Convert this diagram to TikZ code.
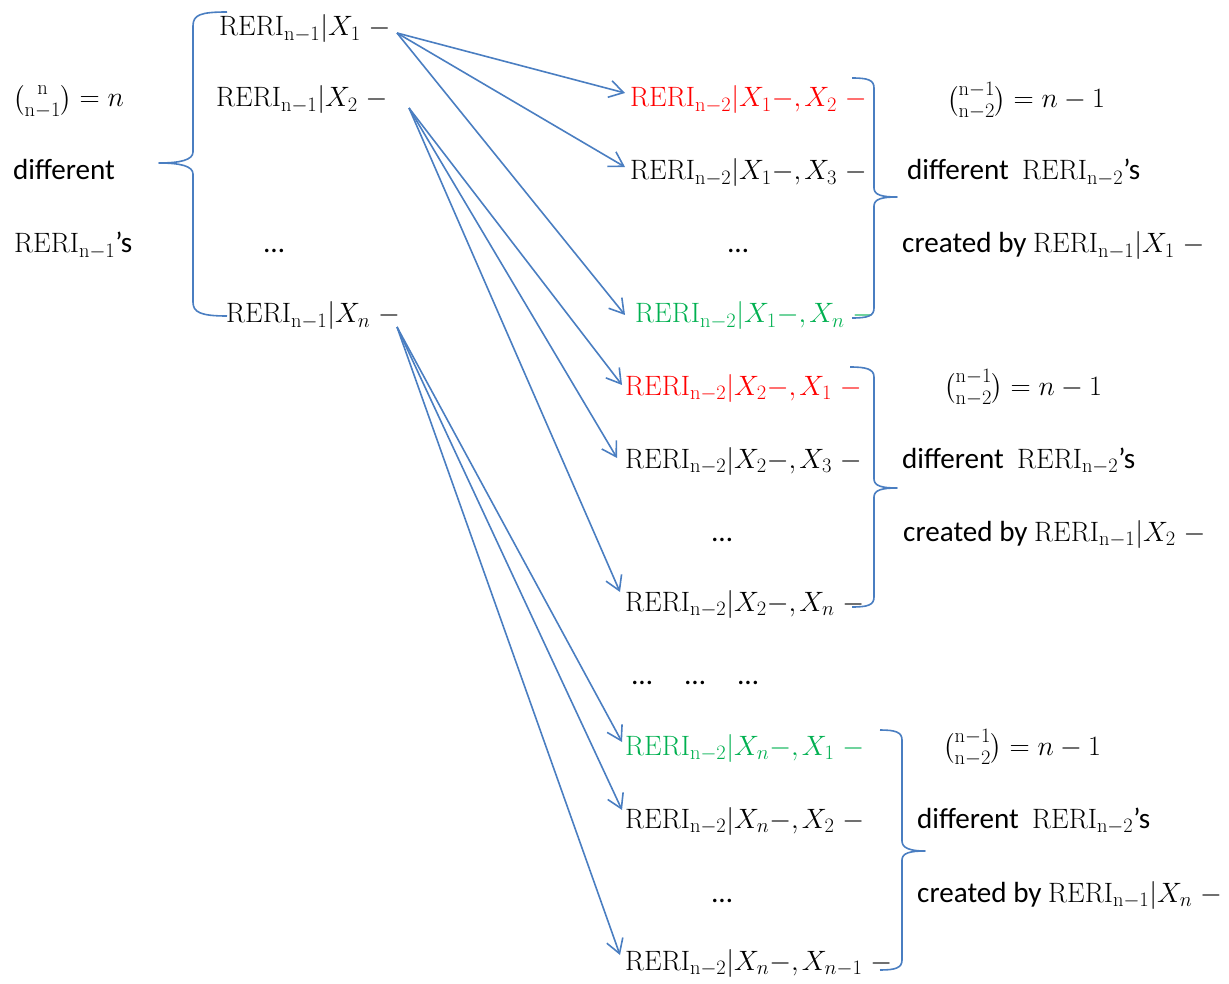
\RequirePackage{fix-cm}
\documentclass[tikz,border=0pt]{standalone}
\usepackage{amsmath}
\usepackage{fontspec}
\newfontfamily\calib{Carlito}[Scale=1.04]
\DeclareMathSizes{28}{28}{20.5}{15}
\usetikzlibrary{arrows.meta,calc}
\definecolor{lineblue}{RGB}{74,126,193}
\definecolor{myred}{RGB}{255,0,0}
\definecolor{mygreen}{RGB}{0,176,80}
\newcommand{\Rs}[1]{\mathrm{RERI}_{\mathrm{#1}}}
\newcommand{\cm}{{,}\mskip2mu}
\tikzset{
  txt/.style={anchor=base west, inner sep=0pt, font=\fontsize{28}{33}\selectfont},
  bracepath/.style={draw=lineblue, line width=1.6pt, line join=round},
  arr/.style={draw=lineblue, line width=1.6pt, -{Straight Barb[length=14pt,width=17pt,line width=1.6pt]}},
}
\begin{document}
\begin{tikzpicture}[x=1pt,y=-1pt]
\useasboundingbox (0,0) rectangle (1229,984);

% left texts
\node[txt] (a0) at (13,107) {$\tbinom{\mathrm{n}}{\mathrm{n-1}} = n$};
\node[txt] (a1) at (13,180) {\calib different};
\node[txt] (a2) at (14,253) {$\Rs{n-1}$\calib ’s};

% first level
\node[txt] (p1) at (219,36) {$\Rs{n-1}|X_1\;{-}$};
\node[txt] (p2) at (216,107) {$\Rs{n-1}|X_2\;{-}$};
\node[txt] (pd) at (264,253) {\calib …};
\node[txt] (pn) at (226,323) {$\Rs{n-1}|X_n\;{-}$};

% big brace
\draw[bracepath] (227,12) .. controls (200,12) and (193,15) .. (193,26) -- (193,152)
  .. controls (193,160) and (180,163) .. (159,163)
  .. controls (180,163) and (193,166) .. (193,174) -- (193,302)
  .. controls (193,312) and (200,316) .. (227,316);

% group 1
\node[txt, text=myred] (g1a) at (630,107) {$\Rs{n-2}|X_1{-}\cm X_2\;{-}$};
\node[txt] (g1b) at (630,180) {$\Rs{n-2}|X_1{-}\cm X_3\;{-}$};
\node[txt] (g1d) at (728,253) {\calib …};
\node[txt, text=mygreen] (g1n) at (635,323) {$\Rs{n-2}|X_1{-}\cm X_n\;{-}$};
\draw[bracepath] (852,78) .. controls (868,78) and (874,80) .. (874,88) -- (874,188)
  .. controls (874,195) and (882,197) .. (897,197)
  .. controls (882,197) and (874,199) .. (874,206) -- (874,308)
  .. controls (874,316) and (868,318) .. (852,318);
\node[txt] (t1a) at (947,108) {$\tbinom{\mathrm{n-1}}{\mathrm{n-2}} = n-1$};
\node[txt] (t1b) at (907,180) {\calib different\ \ $\Rs{n-2}$’s};
\node[txt] (t1c) at (902,253) {\calib created by $\Rs{n-1}|X_1\;{-}$};

% group 2
\node[txt, text=myred] (g2a) at (625,395) {$\Rs{n-2}|X_2{-}\cm X_1\;{-}$};
\node[txt] (g2b) at (625,468) {$\Rs{n-2}|X_2{-}\cm X_3\;{-}$};
\node[txt] (g2d) at (712,541) {\calib …};
\node[txt] (g2n) at (625,611) {$\Rs{n-2}|X_2{-}\cm X_n\;{-}$};
\draw[bracepath] (850,367) .. controls (866,367) and (874,369) .. (874,377) -- (874,479)
  .. controls (874,486) and (882,488) .. (897,488)
  .. controls (882,488) and (874,490) .. (874,497) -- (874,597)
  .. controls (874,605) and (868,607) .. (852,607);
\node[txt] (t2a) at (944,395) {$\tbinom{\mathrm{n-1}}{\mathrm{n-2}} = n-1$};
\node[txt] (t2b) at (902,468) {\calib different\ \ $\Rs{n-2}$’s};
\node[txt] (t2c) at (903,541) {\calib created by $\Rs{n-1}|X_2\;{-}$};

% middle dots
\node[txt] (m1) at (632,684) {\calib …};
\node[txt] (m2) at (685,684) {\calib …};
\node[txt] (m3) at (738,684) {\calib …};

% group 3
\node[txt, text=mygreen] (g3a) at (625,755) {$\Rs{n-2}|X_n{-}\cm X_1\;{-}$};
\node[txt] (g3b) at (625,828) {$\Rs{n-2}|X_n{-}\cm X_2\;{-}$};
\node[txt] (g3d) at (712,902) {\calib …};
\node[txt] (g3n) at (625,970) {$\Rs{n-2}|X_n{-}\cm X_{n-1}\;{-}$};
\draw[bracepath] (880,730) .. controls (895,730) and (902,732) .. (902,740) -- (902,841)
  .. controls (902,848) and (910,851) .. (925,851)
  .. controls (910,851) and (902,853) .. (902,860) -- (902,960)
  .. controls (902,968) and (895,970) .. (880,970);
\node[txt] (t3a) at (943,755) {$\tbinom{\mathrm{n-1}}{\mathrm{n-2}} = n-1$};
\node[txt] (t3b) at (917,828) {\calib different\ \ $\Rs{n-2}$’s};
\node[txt] (t3c) at (917,902) {\calib created by $\Rs{n-1}|X_n\;{-}$};

% arrow sources
\coordinate (s1) at (397,33);
\coordinate (s2) at (409,108);
\coordinate (sn) at (397,327);

\draw[arr] (s1) -- ($(g1a.base west)+(-5,-14)$);
\draw[arr] (s1) -- ($(g1b.base west)+(-5,-13)$);
\draw[arr] (s1) -- ($(g1n.base west)+(-10,-8)$);
\draw[arr] (s2) -- ($(g2a.base west)+(-3,-10)$);
\draw[arr] (s2) -- ($(g2b.base west)+(-8,-10)$);
\draw[arr] (s2) -- ($(g2n.base west)+(-5,-19)$);
\draw[arr] (sn) -- ($(g3a.base west)+(-3,-13)$);
\draw[arr] (sn) -- ($(g3b.base west)+(-3,-18)$);
\draw[arr] (sn) -- ($(g3n.base west)+(-5,-15)$);
\end{tikzpicture}
\end{document}
